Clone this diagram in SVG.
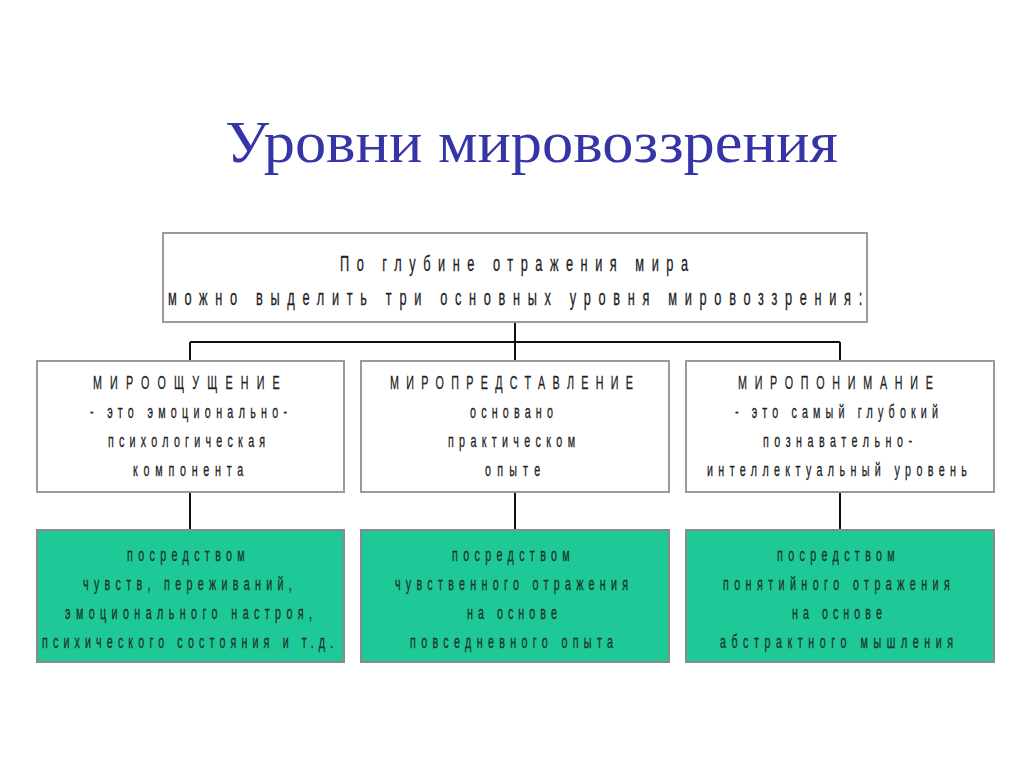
<svg xmlns="http://www.w3.org/2000/svg" width="1024" height="768" viewBox="0 0 1024 768">
<style>
.box{fill:#fff;stroke:#9a9a9a;stroke-width:2}
.gbox{fill:#1fc997;stroke:#8a8a8a;stroke-width:2}
.t{font-family:"Liberation Sans",Arial,sans-serif;font-size:18.5px;fill:#222;stroke:#222;stroke-width:0.3}
.g{font-family:"Liberation Sans",Arial,sans-serif;font-size:18.5px;fill:#1b3328;stroke:#1b3328;stroke-width:0.3}
.tt{font-family:"Liberation Sans",Arial,sans-serif;font-size:22px;fill:#222;stroke:#222;stroke-width:0.3}
.title{font-family:"Liberation Serif","Times New Roman",serif;font-size:60px;fill:#3535a8}
.c{stroke:#111;stroke-width:2;fill:none}
</style>
<rect width="1024" height="768" fill="#fff"/>
<text class="title" x="225" y="162" textLength="613" lengthAdjust="spacingAndGlyphs">Уровни мировоззрения</text>

<g id="connectors">
<path class="c" d="M515 322V342M190 342H840M190 342V361M515 342V361M840 342V361"/>
<path class="c" d="M190 492V530M515 492V530M840 492V530"/>
</g>

<g id="top">
<rect class="box" x="163" y="233" width="704" height="89"/>
<text class="tt" transform="translate(340,271) scale(0.58,1)" textLength="600" lengthAdjust="spacing">По глубине отражения мира</text>
<text class="tt" transform="translate(168,305) scale(0.58,1)" textLength="1197" lengthAdjust="spacing">можно выделить три основных уровня мировоззрения:</text>
</g>

<g id="mirooshushenie">
<rect class="box" x="37" y="361" width="307" height="131"/>
<text class="t" transform="translate(93,389) scale(0.58,1)" textLength="322" lengthAdjust="spacing">МИРООЩУЩЕНИЕ</text>
<text class="t" transform="translate(90,418) scale(0.58,1)" textLength="340" lengthAdjust="spacing">- это эмоционально-</text>
<text class="t" transform="translate(108,447) scale(0.58,1)" textLength="271" lengthAdjust="spacing">психологическая</text>
<text class="t" transform="translate(133,476) scale(0.58,1)" textLength="190" lengthAdjust="spacing">компонента</text>
</g>

<g id="miropredstavlenie">
<rect class="box" x="361" y="361" width="308" height="131"/>
<text class="t" transform="translate(390,389) scale(0.58,1)" textLength="419" lengthAdjust="spacing">МИРОПРЕДСТАВЛЕНИЕ</text>
<text class="t" transform="translate(470,418) scale(0.58,1)" textLength="143" lengthAdjust="spacing">основано</text>
<text class="t" transform="translate(448,447) scale(0.58,1)" textLength="219" lengthAdjust="spacing">практическом</text>
<text class="t" transform="translate(485,476) scale(0.58,1)" textLength="95" lengthAdjust="spacing">опыте</text>
</g>

<g id="miroponimanie">
<rect class="box" x="686" y="361" width="308" height="131"/>
<text class="t" transform="translate(738,389) scale(0.58,1)" textLength="336" lengthAdjust="spacing">МИРОПОНИМАНИЕ</text>
<text class="t" transform="translate(735,418) scale(0.58,1)" textLength="350" lengthAdjust="spacing">- это самый глубокий</text>
<text class="t" transform="translate(763,447) scale(0.58,1)" textLength="257" lengthAdjust="spacing">познавательно-</text>
<text class="t" transform="translate(707,476) scale(0.58,1)" textLength="448" lengthAdjust="spacing">интеллектуальный уровень</text>
</g>

<g id="chuvstva">
<rect class="gbox" x="37" y="530" width="307" height="132"/>
<text class="g" transform="translate(127,561) scale(0.58,1)" textLength="203" lengthAdjust="spacing">посредством</text>
<text class="g" transform="translate(83,590) scale(0.58,1)" textLength="360" lengthAdjust="spacing">чувств, переживаний,</text>
<text class="g" transform="translate(65,619) scale(0.58,1)" textLength="426" lengthAdjust="spacing">эмоционального настроя,</text>
<text class="g" transform="translate(42,648) scale(0.58,1)" textLength="502" lengthAdjust="spacing">психического состояния и т.д.</text>
</g>

<g id="chuvstvennoe">
<rect class="gbox" x="361" y="530" width="308" height="132"/>
<text class="g" transform="translate(452,561) scale(0.58,1)" textLength="203" lengthAdjust="spacing">посредством</text>
<text class="g" transform="translate(395,590) scale(0.58,1)" textLength="402" lengthAdjust="spacing">чувственного отражения</text>
<text class="g" transform="translate(467,619) scale(0.58,1)" textLength="155" lengthAdjust="spacing">на основе</text>
<text class="g" transform="translate(410,648) scale(0.58,1)" textLength="350" lengthAdjust="spacing">повседневного опыта</text>
</g>

<g id="ponyatiynoe">
<rect class="gbox" x="686" y="530" width="308" height="132"/>
<text class="g" transform="translate(777,561) scale(0.58,1)" textLength="203" lengthAdjust="spacing">посредством</text>
<text class="g" transform="translate(723,590) scale(0.58,1)" textLength="391" lengthAdjust="spacing">понятийного отражения</text>
<text class="g" transform="translate(792,619) scale(0.58,1)" textLength="155" lengthAdjust="spacing">на основе</text>
<text class="g" transform="translate(720,648) scale(0.58,1)" textLength="402" lengthAdjust="spacing">абстрактного мышления</text>
</g>
</svg>
